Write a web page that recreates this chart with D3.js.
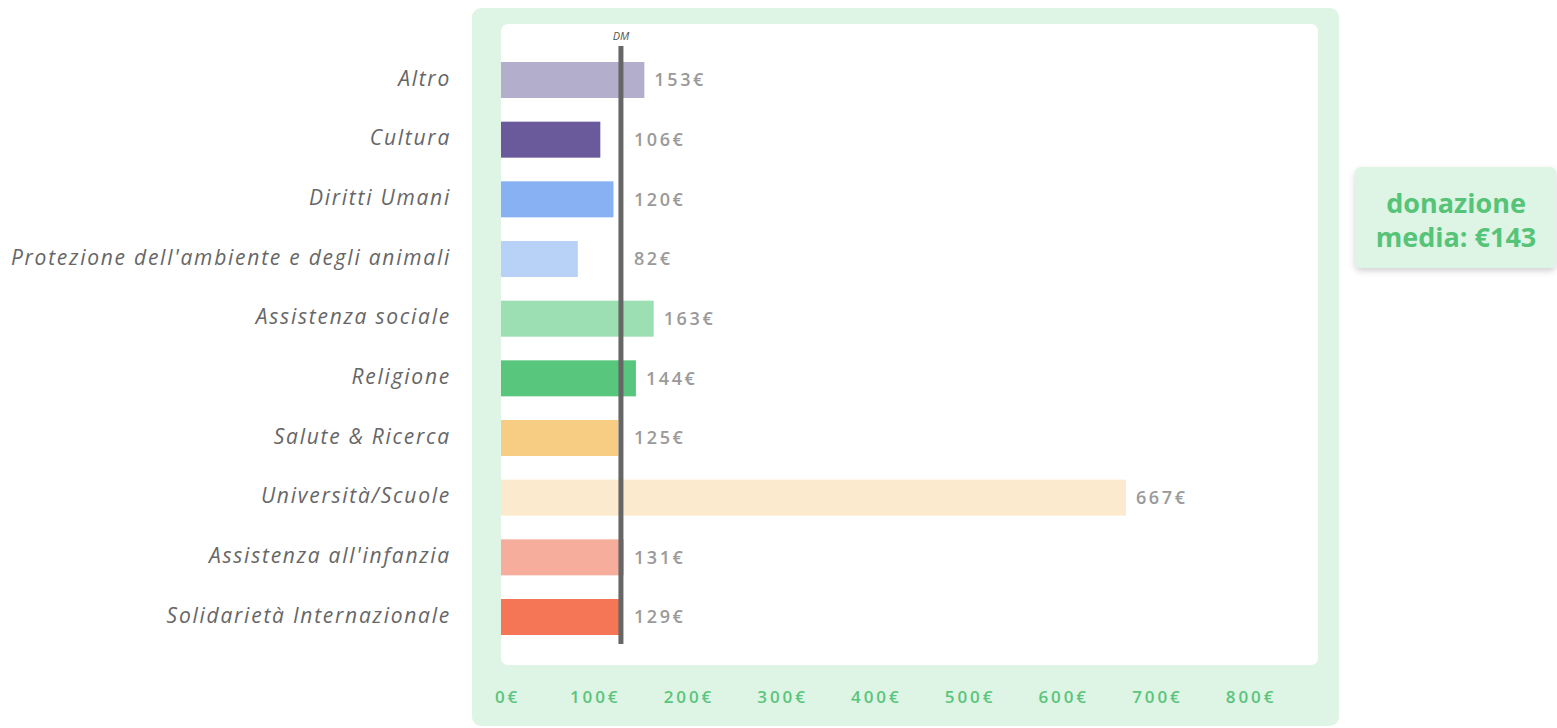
<!DOCTYPE html>
<html><head><meta charset="utf-8">
<script src="https://cdn.jsdelivr.net/npm/d3@7"></script>
<style>
html,body{margin:0;padding:0;background:#fff;}
svg{display:block;}
</style></head>
<body>
<svg id="chart" width="1557" height="728"></svg>
<script>
const categories = ["Altro","Cultura","Diritti Umani","Protezione dell'ambiente e degli animali","Assistenza sociale","Religione","Salute & Ricerca","Università/Scuole","Assistenza all'infanzia","Solidarietà Internazionale"];
const values = [153,106,120,82,163,144,125,667,131,129];
const colors = ["#b3aecc","#6a5a9b","#87b1f3","#b8d2f7","#9cdfb3","#58c77d","#f6cd82","#fbeacd","#f7ad9c","#f47656"];
const tickValues = [0,100,200,300,400,500,600,700,800];
const tickLabels = ["0€","100€","200€","300€","400€","500€","600€","700€","800€"];
const meanLineValue = 128;   // where the DM line sits on the bar scale
const meanLabel = "DM";
const boxLines = ["donazione","media: €143"];

const svg = d3.select("#chart");
const green = "#59c57c";
const font = "'Open Sans', Lato, sans-serif";

const x = d3.scaleLinear().domain([0,800]).range([501, 501+800*0.937]);
const y = d3.scalePoint().domain(categories).range([80, 617]);
const barH = 36;

// outer panel
svg.append("rect").attr("x",472).attr("y",8).attr("width",867).attr("height",718).attr("rx",9).attr("fill","#def4e4");
svg.append("rect").attr("x",501).attr("y",24).attr("width",817).attr("height",641).attr("rx",7).attr("fill","#ffffff");

// bars
svg.append("g").selectAll("rect").data(categories).join("rect")
  .attr("x", x(0)).attr("y", d=>y(d)-barH/2)
  .attr("width",(d,i)=>x(values[i])-x(0)).attr("height",barH)
  .attr("fill",(d,i)=>colors[i]);

// DM line
const lx = x(meanLineValue);
svg.append("line").attr("x1",lx).attr("x2",lx).attr("y1",46).attr("y2",644)
  .attr("stroke","#666666").attr("stroke-width",5);
svg.append("text").attr("x",lx).attr("y",40).attr("text-anchor","middle")
  .attr("font-family",font).attr("font-style","italic").attr("font-size",11)
  .attr("fill","#555").text(meanLabel);

// value labels
svg.append("g").selectAll("text").data(categories).join("text")
  .attr("x",(d,i)=>Math.max(x(values[i]), lx+3)+10)
  .attr("y",d=>y(d)).attr("dy","0.36em")
  .attr("font-family",font).attr("font-weight",600).attr("font-size",18)
  .attr("letter-spacing","2.6px").attr("fill","#9a9a9a")
  .text((d,i)=>values[i]+"€");

// category labels
svg.append("g").selectAll("text").data(categories).join("text")
  .attr("x",451).attr("y",d=>y(d)-2).attr("dy","0.36em").attr("text-anchor","end")
  .attr("font-family",font).attr("font-style","italic").attr("font-size",21)
  .attr("letter-spacing","1.75px").attr("fill","#666666")
  .text(d=>d);

// x axis
const axis = d3.axisBottom(x).tickValues(tickValues).tickFormat((d,i)=>tickLabels[i]).tickSize(0);
const ag = svg.append("g").attr("transform","translate(0,690)").call(axis);
ag.select(".domain").remove();
ag.selectAll("text").attr("font-family",font).attr("font-weight",600).attr("font-size",17)
  .attr("letter-spacing","2.9px").attr("fill",green).attr("dy","0.32em").attr("y",8);
ag.selectAll(".tick").filter(d=>d===0).select("text").attr("dx",6);

// right box
const defs = svg.append("defs");
const f = defs.append("filter").attr("id","sh").attr("x","-20%").attr("y","-20%").attr("width","140%").attr("height","150%");
f.append("feDropShadow").attr("dx",0).attr("dy",3).attr("stdDeviation",3).attr("flood-color","#000").attr("flood-opacity",0.18);
svg.append("rect").attr("x",1355).attr("y",167).attr("width",201).attr("height",101).attr("rx",6)
  .attr("fill","#def4e4").attr("filter","url(#sh)");
svg.append("g").selectAll("text").data(boxLines).join("text")
  .attr("x",1456).attr("y",(d,i)=>204+i*34).attr("dy","0.35em").attr("text-anchor","middle")
  .attr("font-family",font).attr("font-weight",700).attr("font-size",27)
  .attr("fill","#55c478").text(d=>d);
</script>
</body></html>
